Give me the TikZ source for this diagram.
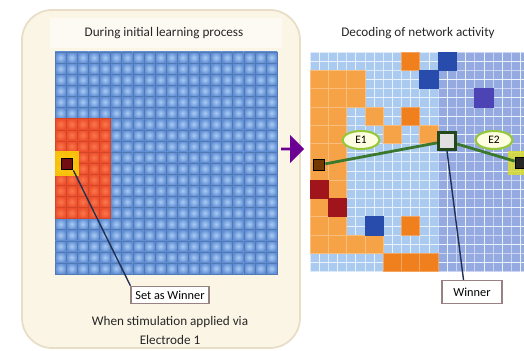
\documentclass[tikz,border=0pt]{standalone}
\usepackage{fontspec}
\setmainfont{Carlito}
\usetikzlibrary{shapes.geometric,shapes.arrows}
\definecolor{panelcream}{RGB}{251,245,229}
\definecolor{paneledge}{RGB}{232,222,200}
\definecolor{bluelo}{RGB}{96,142,212}
\definecolor{bluehi}{RGB}{170,204,244}
\definecolor{redlo}{RGB}{236,78,44}
\definecolor{redhi}{RGB}{250,120,76}
\definecolor{lightcell}{RGB}{170,202,240}
\definecolor{lavcell}{RGB}{150,170,226}
\definecolor{lorange}{RGB}{246,162,70}
\definecolor{borange}{RGB}{240,128,30}
\definecolor{darkred}{RGB}{160,20,28}
\definecolor{darkblue}{RGB}{40,76,172}
\definecolor{purpleblue}{RGB}{76,68,180}
\definecolor{linkgreen}{RGB}{58,120,46}
\definecolor{ringgreen}{RGB}{150,200,60}
\definecolor{pointernavy}{RGB}{34,48,84}
\definecolor{labelgray}{RGB}{150,130,130}
\tikzset{
  caption/.style = {font = \fontsize{7.5}{9}\selectfont, text = black!85},
  tag/.style = {draw = labelgray, fill = white, line width = 0.7pt, inner sep = 2.5pt, font = \fontsize{7}{8}\selectfont},
  electrode/.style = {ellipse, draw = ringgreen, fill = yellow!12, line width = 1.2pt, minimum width = 0.74cm, minimum height = 0.36cm, inner sep = 0pt, font = \fontsize{6.5}{7}\selectfont},
  marker/.style = {rectangle, draw = black, line width = 1pt, minimum size = 0.22cm, inner sep = 0pt},
  pointer/.style = {draw = pointernavy, line width = 0.8pt}
}
\begin{document}
\begin{tikzpicture}[x = 0.02cm, y = -0.02cm]
\useasboundingbox (0,0) rectangle (524,351);
\pgfmathsetmacro\cellA{11.1}
\pgfmathsetmacro\cellB{18.3}
\draw [fill = panelcream, draw = paneledge, line width = 1pt, rounded corners = 0.6cm] (22,10) rectangle (300,348);
\fill [white!55!panelcream] (50,18) rectangle (282,48);
\node [caption] (titleA) at (164,33) {During initial learning process};
\node [caption] (titleB) at (418,33) {Decoding of network activity};
\foreach \i in {0,...,19} \foreach \j in {0,...,19} \shadedraw [inner color = bluehi, outer color = bluelo, draw = bluelo!85!black, line width = 0.2pt] (55+\i*\cellA,52+\j*\cellA) rectangle ++(\cellA,\cellA);
\foreach \i in {0,...,4} \foreach \j in {6,...,14} \shadedraw [inner color = redhi, outer color = redlo, draw = redlo!90!black, line width = 0.2pt] (55+\i*\cellA,52+\j*\cellA) rectangle ++(\cellA,\cellA);
\fill [yellow!80!orange, opacity = 0.8] (55,151) rectangle (79,176);
\node [marker, fill = darkred!70!black] (setcell) at (67,164) {};
\node [tag] (setlabel) at (170,295) {Set as Winner};
\draw [pointer] (setcell.south east) -- (setlabel.north west);
\node [caption] (stimtext) at (170,322) {When stimulation applied via};
\node [caption] (electext) at (170,340) {Electrode 1};
\node [single arrow, fill = violet!85!blue, minimum height = 0.46cm, minimum width = 0.56cm, single arrow head extend = 0.06cm, inner sep = 0pt] (shift) at (292,149) {};
\begin{scope}
\clip (300,40) rectangle (524,280);
\foreach \i in {0,...,6} \foreach \j in {0,...,11} \draw [fill = lightcell, draw = white!60!lightcell, line width = 0.4pt] (310+\i*\cellB,52+\j*\cellB) rectangle ++(\cellB,\cellB);
\foreach \i in {7,...,11} \foreach \j in {0,...,11} \draw [fill = lavcell, draw = white!50!lavcell, line width = 0.4pt] (310+\i*\cellB,52+\j*\cellB) rectangle ++(\cellB,\cellB);
\foreach \i in {0,...,11} \draw [draw = white!75!lightcell, line width = 0.3pt] (310+\i*\cellB+\cellB/2,52) -- ++(0,12*\cellB);
\foreach \j in {0,...,11} \draw [draw = white!75!lightcell, line width = 0.3pt] (310,52+\j*\cellB+\cellB/2) -- ++(12*\cellB,0);
\foreach \c/\r in {0/1,1/1,2/1,0/2,1/2,2/2,0/3,1/3,3/3,0/4,1/4,4/4,6/4,0/5,1/5,0/6,1/6,1/7,0/8,0/9,1/9,0/10,1/10,2/10,3/10} \draw [fill = lorange, draw = white!30!lorange, line width = 0.4pt] (310+\c*\cellB,52+\r*\cellB) rectangle ++(\cellB,\cellB);
\foreach \c/\r in {5/0,5/3,5/9,4/11,5/11,6/11} \draw [fill = borange, draw = white!30!borange, line width = 0.4pt] (310+\c*\cellB,52+\r*\cellB) rectangle ++(\cellB,\cellB);
\foreach \c/\r in {0/7,1/8} \draw [fill = darkred, draw = darkred, line width = 0.4pt] (310+\c*\cellB,52+\r*\cellB) rectangle ++(\cellB,\cellB);
\foreach \c/\r in {7/0,6/1,3/9} \draw [fill = darkblue, draw = darkblue, line width = 0.4pt] (310+\c*\cellB,52+\r*\cellB) rectangle ++(\cellB,\cellB);
\draw [fill = purpleblue, draw = purpleblue, line width = 0.4pt] (310+9*\cellB,52+2*\cellB) rectangle ++(\cellB,\cellB);
\fill [yellow!60!ringgreen, opacity = 0.85] (508,151) rectangle (530,175);
\end{scope}
\node [marker, fill = orange!45!black] (leftcell) at (319,165) {};
\node [marker, fill = black!85] (rightcell) at (521,163) {};
\node [rectangle, draw = linkgreen!60!black, fill = black!12, line width = 1.8pt, minimum size = 0.34cm, inner sep = 0pt] (wincell) at (447,141) {};
\draw [draw = linkgreen, line width = 1.6pt] (leftcell) -- (wincell) -- (rightcell);
\node [electrode] (eone) at (361,140) {E1};
\node [electrode] (etwo) at (494,140) {E2};
\node [tag, minimum width = 1.2cm, minimum height = 0.46cm] (winlabel) at (472,292) {Winner};
\draw [pointer] (wincell.south) -- (winlabel.125);
\end{tikzpicture}
\end{document}
